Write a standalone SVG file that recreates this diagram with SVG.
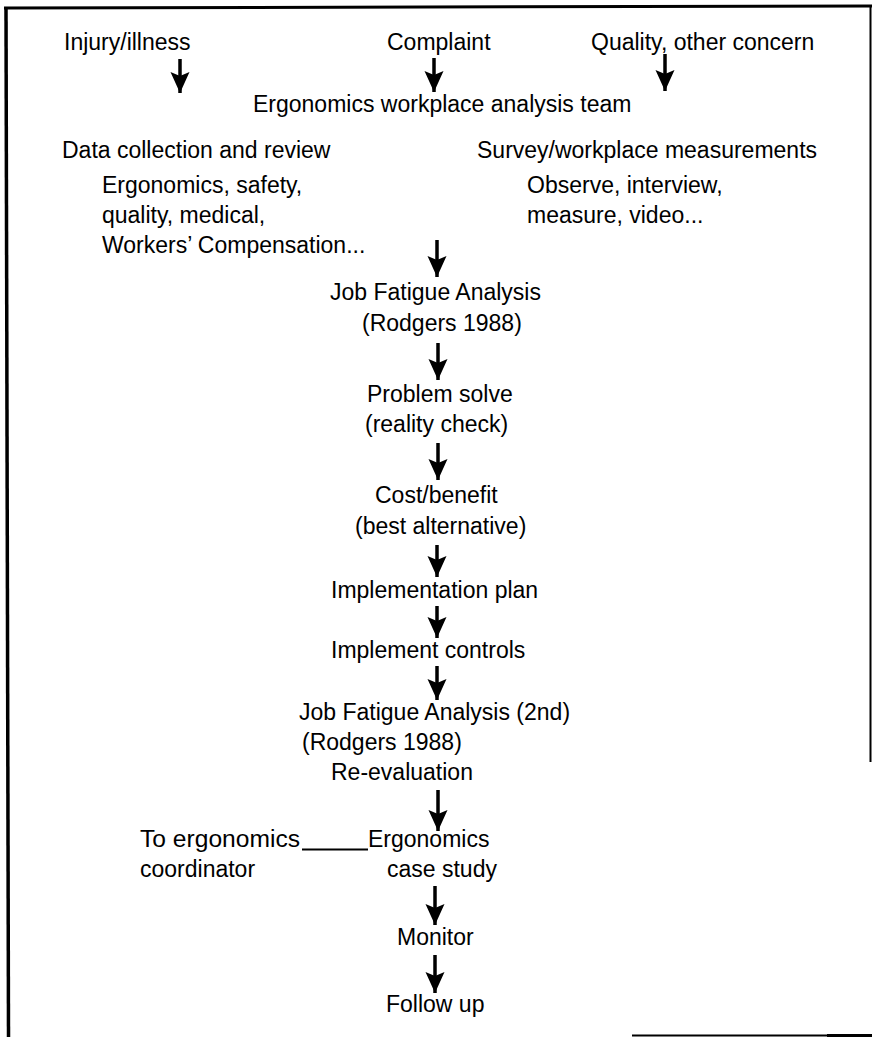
<svg xmlns="http://www.w3.org/2000/svg" width="872" height="1037" viewBox="0 0 872 1037">
  <style>
    text { font-family: "Liberation Sans", Arial, sans-serif; font-size: 23px; fill: #000; }
    .frame { fill: none; stroke: #000; stroke-linecap: butt; }
    .flow { stroke: #000; stroke-width: 3.5; fill: none; }
    .tie { stroke: #000; stroke-width: 2; fill: none; }
  </style>
  <defs>
    <marker id="head" markerUnits="userSpaceOnUse" markerWidth="22" markerHeight="20" viewBox="0 0 22 20" refX="21" refY="10" orient="auto">
      <path d="M21,10 L0,0.5 L4,10 L0,19.5 Z" fill="#000"/>
    </marker>
  </defs>

  <rect width="872" height="1037" fill="#fff"/>

  <!-- page frame -->
  <g id="frame">
    <path class="frame" d="M4,8 L872,6" stroke-width="3"/>
    <path class="frame" d="M6,7 L8.5,1037" stroke-width="3.5"/>
    <path class="frame" d="M870.5,5 L870.5,762" stroke-width="2" stroke="#444"/>
    <path class="frame" d="M632,1035.5 L827,1035.5" stroke-width="2" stroke="#555"/>
    <path class="frame" d="M827,1035.5 L872,1035.5" stroke-width="3"/>
  </g>

  <!-- connectors -->
  <g id="connectors">
    <line class="flow" x1="180" y1="59" x2="180" y2="93" marker-end="url(#head)"/>
    <line class="flow" x1="434" y1="58" x2="434" y2="92" marker-end="url(#head)"/>
    <line class="flow" x1="665" y1="54" x2="665" y2="91" marker-end="url(#head)"/>
    <line class="flow" x1="437" y1="240" x2="437" y2="277" marker-end="url(#head)"/>
    <line class="flow" x1="438" y1="343" x2="438" y2="380" marker-end="url(#head)"/>
    <line class="flow" x1="438" y1="443" x2="438" y2="480" marker-end="url(#head)"/>
    <line class="flow" x1="437" y1="545" x2="437" y2="577" marker-end="url(#head)"/>
    <line class="flow" x1="437" y1="606" x2="437" y2="638" marker-end="url(#head)"/>
    <line class="flow" x1="437" y1="666" x2="437" y2="700" marker-end="url(#head)"/>
    <line class="flow" x1="438" y1="790" x2="438" y2="831" marker-end="url(#head)"/>
    <line class="flow" x1="435" y1="886" x2="435" y2="925" marker-end="url(#head)"/>
    <line class="flow" x1="435" y1="955" x2="435" y2="993" marker-end="url(#head)"/>
    <line class="tie" x1="302" y1="849.5" x2="368" y2="849.5"/>
  </g>

  <g id="injury"><text x="64" y="50">Injury/illness</text></g>
  <g id="complaint"><text x="387" y="50">Complaint</text></g>
  <g id="quality"><text x="591" y="50">Quality, other concern</text></g>

  <g id="team"><text x="253" y="112">Ergonomics workplace analysis team</text></g>

  <g id="data-collection">
    <text x="62" y="158">Data collection and review</text>
    <text x="102" y="193">Ergonomics, safety,</text>
    <text x="102" y="223">quality, medical,</text>
    <text x="102" y="253">Workers’ Compensation...</text>
  </g>

  <g id="survey">
    <text x="477" y="158">Survey/workplace measurements</text>
    <text x="527" y="193">Observe, interview,</text>
    <text x="527" y="223">measure, video...</text>
  </g>

  <g id="fatigue-1">
    <text x="330" y="300">Job Fatigue Analysis</text>
    <text x="362" y="331">(Rodgers 1988)</text>
  </g>

  <g id="problem-solve">
    <text x="367" y="402">Problem solve</text>
    <text x="365" y="432">(reality check)</text>
  </g>

  <g id="cost-benefit">
    <text x="375" y="503">Cost/benefit</text>
    <text x="355" y="534">(best alternative)</text>
  </g>

  <g id="plan"><text x="331" y="598">Implementation plan</text></g>

  <g id="controls"><text x="331" y="658">Implement controls</text></g>

  <g id="fatigue-2">
    <text x="299" y="720">Job Fatigue Analysis (2nd)</text>
    <text x="302" y="750">(Rodgers 1988)</text>
    <text x="331" y="780">Re-evaluation</text>
  </g>

  <g id="coordinator">
    <text x="140" y="847" textLength="160" lengthAdjust="spacingAndGlyphs">To ergonomics</text>
    <text x="140" y="877">coordinator</text>
  </g>

  <g id="case-study">
    <text x="368" y="847">Ergonomics</text>
    <text x="387" y="877">case study</text>
  </g>

  <g id="monitor"><text x="397" y="945">Monitor</text></g>

  <g id="follow-up"><text x="386" y="1012">Follow up</text></g>
</svg>
